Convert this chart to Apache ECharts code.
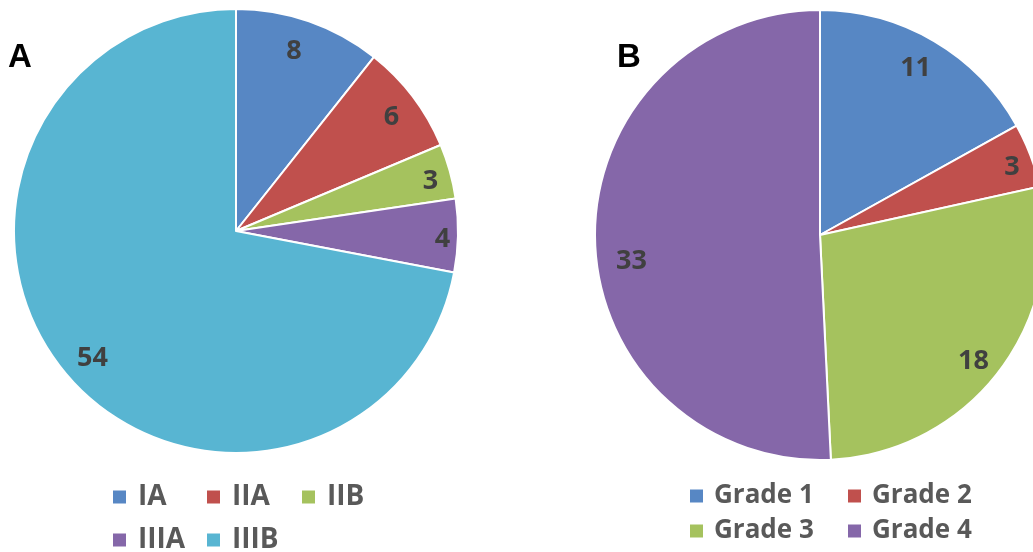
<!DOCTYPE html>
<html>
<head>
<meta charset="utf-8">
<script src="https://cdn.jsdelivr.net/npm/echarts@6/dist/echarts.min.js"></script>
<style>
  html, body { margin: 0; padding: 0; background: #fff; }
  #chart { width: 1033px; height: 552px; }
</style>
</head>
<body>
<div id="chart"></div>
<script>
// Panel A: stage distribution
const stageNames = ['IA', 'IIA', 'IIB', 'IIIA', 'IIIB'];
const stageCounts = [8, 6, 3, 4, 54];
// Panel B: grade distribution
const gradeNames = ['Grade 1', 'Grade 2', 'Grade 3', 'Grade 4'];
const gradeCounts = [11, 3, 18, 33];

const paletteA = ['#5787C4', '#C0504D', '#A5C25E', '#8567A9', '#58B5D2'];
const paletteB = ['#5787C4', '#C0504D', '#A5C25E', '#8567A9'];

// small per-label nudges (px) so each value sits snugly inside its slice edge
const labelNudgeA = [[-5, 1], [3, 2], [10, 2], [15, 4], [4, 5]];
const labelNudgeB = [[-3, 1], [10, 1], [-1, 8], [6, 22]];

const chart = echarts.init(document.getElementById('chart'), null, { renderer: 'canvas' });

function toData(names, values, colors) {
  return names.map((n, i) => ({ name: n, value: values[i], itemStyle: { color: colors[i] } }));
}

function pieSeries(names, values, colors, nudges, center, r) {
  return [
    {
      type: 'pie',
      center: center,
      radius: [0, r],
      startAngle: 90,
      clockwise: true,
      animation: false,
      silent: true,
      itemStyle: { borderColor: '#ffffff', borderWidth: 2 },
      label: { show: false },
      labelLine: { show: false },
      data: toData(names, values, colors)
    },
    {
      // transparent ring that carries the value labels near the outer edge
      type: 'pie',
      center: center,
      radius: [Math.round(r * 0.7), r],
      startAngle: 90,
      clockwise: true,
      animation: false,
      silent: true,
      itemStyle: { color: 'rgba(0,0,0,0)', borderWidth: 0 },
      label: {
        show: true,
        position: 'inside',
        formatter: '{c}',
        color: '#404040',
        fontFamily: 'Open Sans',
        fontWeight: 'bold',
        fontSize: 27
      },
      labelLine: { show: false },
      data: names.map((n, i) => ({ name: n, value: values[i], label: { offset: nudges[i] } }))
    }
  ];
}

// one legend entry per component so the entries line up in fixed columns
function legendItem(name, left, midY, fontSize, gap) {
  const lh = 30;
  return {
    data: [name],
    left: left,
    top: midY - lh / 2,
    orient: 'horizontal',
    icon: 'rect',
    itemWidth: 15,
    itemHeight: 15,
    itemGap: 0,
    selectedMode: false,
    padding: 0,
    textStyle: {
      color: '#595959',
      fontFamily: 'Open Sans',
      fontWeight: 'bold',
      fontSize: fontSize,
      lineHeight: lh,
      padding: [0, 0, 0, gap]
    }
  };
}

const colsA = [111, 205, 300];
const rowsA = [497, 540];
const colsB = [688, 846];
const rowsB = [496, 531];

const legends = [];
stageNames.forEach((n, i) => {
  legends.push(legendItem(n, colsA[i % 3], rowsA[Math.floor(i / 3)], 28, 6));
});
gradeNames.forEach((n, i) => {
  legends.push(legendItem(n, colsB[i % 2], rowsB[Math.floor(i / 2)], 26, 5));
});

const titleStyle = { fontFamily: 'Liberation Sans', fontWeight: 'bold', fontSize: 33, color: '#000' };

chart.setOption({
  backgroundColor: '#ffffff',
  animation: false,
  title: [
    { text: 'A', left: 8, top: 41, padding: 0, textStyle: titleStyle },
    { text: 'B', left: 617, top: 41, padding: 0, textStyle: titleStyle }
  ],
  legend: legends,
  series: [
    ...pieSeries(stageNames, stageCounts, paletteA, labelNudgeA, [236, 231], 222),
    ...pieSeries(gradeNames, gradeCounts, paletteB, labelNudgeB, [820, 235], 225)
  ]
});
</script>
</body>
</html>
